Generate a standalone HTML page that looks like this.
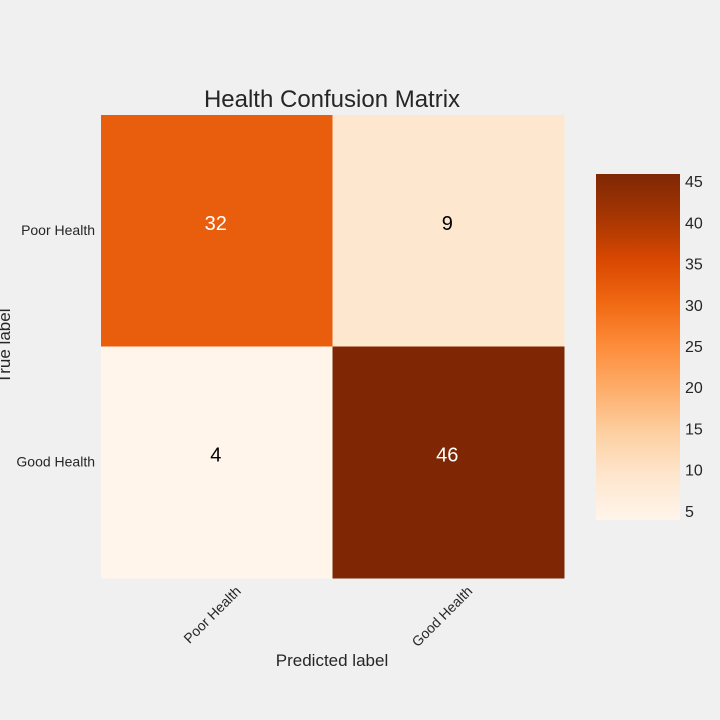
<!DOCTYPE html>
<html><head><meta charset="utf-8"><style>
html,body{margin:0;background:#f0f0f0;overflow:hidden;width:720px;height:720px;}
svg{display:block;}
svg text{font-family:"Liberation Sans",Arial,sans-serif;}
</style></head><body>
<svg id="c" width="720" height="720" xmlns="http://www.w3.org/2000/svg">
<rect width="720" height="720" fill="#f0f0f0"/>
<text x="332" y="107" font-size="24" text-anchor="middle" fill="#262626">Health Confusion Matrix</text>
<text transform="translate(10,346) rotate(-90)" font-size="17" text-anchor="middle" fill="#262626">True label</text>
<text x="332" y="666" font-size="17" text-anchor="middle" fill="#262626">Predicted label</text>
<defs><linearGradient id="g" x1="0" y1="1" x2="0" y2="0"></linearGradient></defs>
<g id="cells"></g>
<g id="cbar"></g>
</svg>
<script>
const rowLabels=["Poor Health","Good Health"];
const colLabels=["Poor Health","Good Health"];
const values=[[32,9],[4,46]];
const cbTicks=[5,10,15,20,25,30,35,40,45];
const stops=["#fff5eb","#fee6ce","#fdd0a2","#fdae6b","#fd8d3c","#f16913","#d94801","#a63603","#7f2704"];
const NS="http://www.w3.org/2000/svg";
const flat=values.flat();const vmin=Math.min(...flat),vmax=Math.max(...flat);
const X0=101,Y0=115,W=463,H=463;
const cw=W/colLabels.length,ch=H/rowLabels.length;
function hex(h){return [1,3,5].map(i=>parseInt(h.substr(i,2),16));}
function cmap(t){t=Math.max(0,Math.min(1,t));const s=t*(stops.length-1);const i=Math.min(Math.floor(s),stops.length-2);const f=s-i;const a=hex(stops[i]),b=hex(stops[i+1]);return `rgb(${a.map((v,k)=>Math.round(v+(b[k]-v)*f)).join(",")})`;}
function el(tag,attrs,parent){const e=document.createElementNS(NS,tag);for(const k in attrs)e.setAttribute(k,attrs[k]);parent.appendChild(e);return e;}
const cells=document.getElementById('cells');
values.forEach((row,r)=>row.forEach((v,c)=>{
 const t=(v-vmin)/(vmax-vmin);
 const rc=el('rect',{x:X0+c*cw,y:Y0+r*ch,width:cw+0.5,height:ch+0.5,fill:cmap(t)},cells);
 
 
 const tx=el('text',{x:X0+c*cw+cw/2-1,y:Y0+r*ch+ch/2-1,'font-size':20,'text-anchor':'middle',fill:t>0.5?'#ffffff':'#000000'},cells);
 tx.textContent=v;
 
 
}));
rowLabels.forEach((l,r)=>{const t=el('text',{x:X0-6,y:Y0+r*ch+ch/2+4,'font-size':14,'text-anchor':'end',fill:'#262626'},cells);t.textContent=l;
 
 });
colLabels.forEach((l,c)=>{const x=X0+c*cw+cw/2+25,y=Y0+H+14;const t=el('text',{transform:`translate(${x},${y}) rotate(-45)`,'font-size':14,'text-anchor':'end',fill:'#262626'},cells);t.textContent=l;
 
 });
const g=document.getElementById('g');
stops.forEach((s,i)=>el('stop',{offset:i/(stops.length-1),'stop-color':s},g));
const cb=document.getElementById('cbar');
const CX=596,CY=174,CW=84,CH=346;
const bar=el('rect',{x:CX,y:CY,width:CW,height:CH,fill:'url(#g)'},cb);


cbTicks.forEach(v=>{const y=CY+CH-(v-vmin)/(vmax-vmin)*CH;const t=el('text',{x:CX+CW+5,y:y+5,'font-size':16,fill:'#262626'},cb);t.textContent=v;
 
 });
</script>
</body></html>
